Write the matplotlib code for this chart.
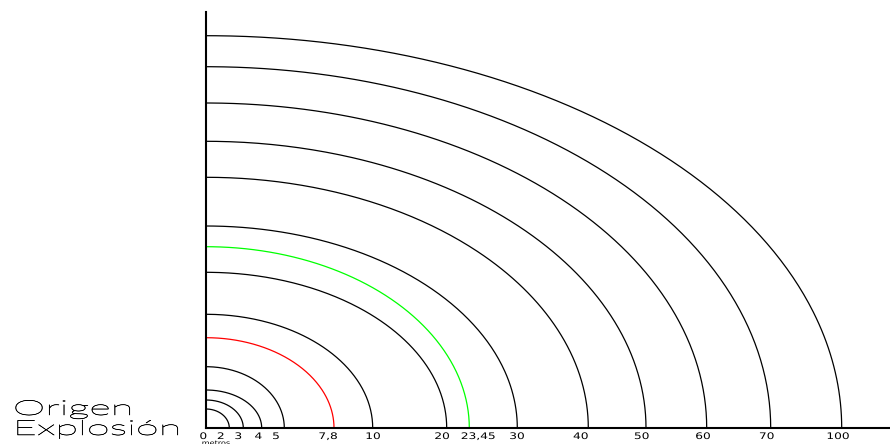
import numpy as np
import matplotlib
matplotlib.use("Agg")
import matplotlib.pyplot as plt
from matplotlib.patheffects import AbstractPathEffect
from matplotlib.transforms import Affine2D

# Radii of the pressure zones (schematic axis, not to scale)
zone_labels = ['2', '3', '4', '5', '7,8', '10', '20', '23,45', '30', '40', '50', '60', '70', '100']
zone_x = [23.3, 37.3, 55.7, 78.3, 128, 166.7, 240.7, 263.3, 311.3, 382.3, 440, 500.7, 564.7, 635.7]
zone_y = [19, 28, 38, 61.3, 90.3, 113.7, 155.7, 181.3, 202, 250.7, 286.7, 325, 361.3, 392.3]
zone_colors = ['black'] * 4 + ['#ff0000', 'black', 'black', '#00ff00'] + ['black'] * 6

tick_labels = ['0'] + zone_labels
tick_pos = [-2.7, 14.7, 32.3, 52.3, 70, 122, 167, 236, 272, 311, 374.7, 435.7, 497, 560.7, 632]


class HStretch(AbstractPathEffect):
    """Widen a text horizontally around its anchor point (optional thin outline)."""

    def __init__(self, text, sx, lw=0.0):
        super().__init__()
        self.text = text
        self.sx = sx
        self.lw = lw

    def draw_path(self, renderer, gc, tpath, affine, rgbFace=None):
        x0 = self.text.get_transform().transform(self.text.get_unitless_position())[0]
        st = Affine2D().translate(-x0, 0).scale(self.sx, 1).translate(x0, 0)
        gc0 = renderer.new_gc()
        gc0.copy_properties(gc)
        if self.lw:
            gc0.set_linewidth(self.lw)
            gc0.set_foreground(rgbFace)
        renderer.draw_path(gc0, tpath, affine + st, rgbFace)
        gc0.restore()


def wide_text(ax, x, y, s, sx, lw=0.0, **kw):
    t = ax.text(x, y, s, clip_on=False, **kw)
    t.set_path_effects([HStretch(t, sx, lw)])
    return t


fig = plt.figure(figsize=(8.9, 4.44), dpi=100)
ax = fig.add_axes([206 / 890, 16 / 444, 684 / 890, 416 / 444])
ax.set_xlim(0, 684)
ax.set_ylim(0, 416)
ax.spines[['right', 'top']].set_visible(False)
for side in ['left', 'bottom']:
    ax.spines[side].set_linewidth(1.5)
ax.set_xticks([])
ax.set_yticks([])

# Quarter ellipses, one per zone
t = np.linspace(0, np.pi / 2, 200)
for a, b, c in zip(zone_x, zone_y, zone_colors):
    ax.plot(a * np.cos(t), b * np.sin(t), color=c, lw=0.9, solid_capstyle='butt')

tick_font = dict(family=['DejaVu Sans'], fontsize=6.5, color='black')
for lab, x in zip(tick_labels, tick_pos):
    wide_text(ax, x, -8.5, lab, 1.35, ha='center', va='center', **tick_font)
wide_text(ax, -4.3, -13, 'metros', 1.3, ha='left', va='top',
          family=['DejaVu Sans'], fontsize=4.5, color='black')

legend_font = dict(family=['Lato', 'DejaVu Sans'], fontweight='light', fontsize=15, color='black')
wide_text(ax, -193.3, 13, 'Origen', 2.0, lw=0.35, ha='left', va='baseline', **legend_font)
wide_text(ax, -193.3, -7, 'Explosión', 2.0, lw=0.35, ha='left', va='baseline', **legend_font)

fig.savefig('out.png', dpi=100)
